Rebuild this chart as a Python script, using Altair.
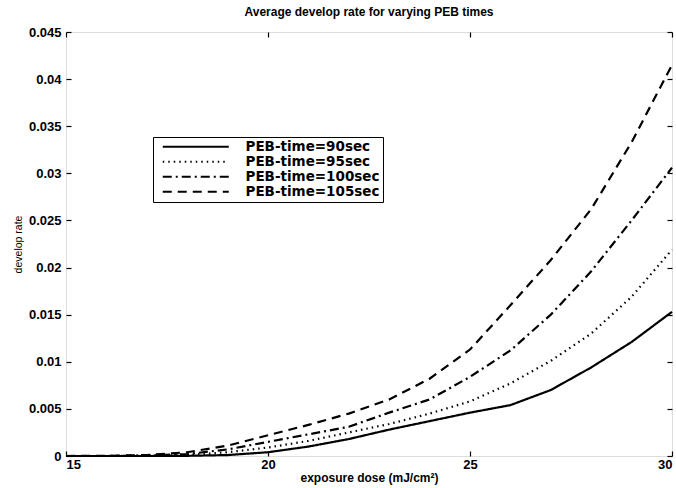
import altair as alt
import pandas as pd

dose = list(range(15, 31))
series_labels = ["PEB-time=90sec", "PEB-time=95sec", "PEB-time=100sec", "PEB-time=105sec"]
rate_90 = [0, 0, 0, 0.00002, 0.0001, 0.0004, 0.001, 0.0018, 0.0028, 0.0037, 0.0046, 0.0054, 0.0070, 0.0094, 0.0121, 0.0153]
rate_95 = [0, 0, 0.00003, 0.0001, 0.0004, 0.0009, 0.0016, 0.0025, 0.0034, 0.0045, 0.0058, 0.0077, 0.0101, 0.0130, 0.0169, 0.0219]
rate_100 = [0, 0, 0.00005, 0.0002, 0.0007, 0.0015, 0.0023, 0.0031, 0.0046, 0.0060, 0.0084, 0.0112, 0.0150, 0.0196, 0.0250, 0.0306]
rate_105 = [0, 0.00002, 0.0001, 0.0004, 0.0011, 0.0022, 0.0033, 0.0045, 0.0060, 0.0082, 0.0113, 0.0160, 0.0208, 0.0262, 0.0333, 0.0415]
x_ticks = [15, 20, 25, 30]
y_ticks = [0, 0.005, 0.01, 0.015, 0.02, 0.025, 0.03, 0.035, 0.04, 0.045]

rows = []
for lab, vals in zip(series_labels, [rate_90, rate_95, rate_100, rate_105]):
    for d, v in zip(dose, vals):
        rows.append({"dose": d, "rate": v, "series": lab})
df = pd.DataFrame(rows)

FONT = "Liberation Sans"
xscale = alt.Scale(domain=[15, 30], nice=False, zero=False)
yscale = alt.Scale(domain=[0, 0.045], nice=False)

base = alt.Chart(df)

lines = base.mark_line(color="black", strokeWidth=2.2).encode(
    x=alt.X("dose:Q", scale=xscale,
            axis=alt.Axis(values=x_ticks, ticks=False, domain=False, grid=False,
                          labelFont=FONT, labelFontWeight="bold", labelFontSize=13,
                          labelColor="black", labelPadding=2,
                          title="exposure dose (mJ/cm²)", titleFont=FONT,
                          titleFontWeight="bold", titleFontSize=12, titleColor="black",
                          titlePadding=1)),
    y=alt.Y("rate:Q", scale=yscale,
            axis=alt.Axis(values=y_ticks, format=".3~f", ticks=False, domain=False, grid=False,
                          labelFont=FONT, labelFontWeight="bold", labelFontSize=13,
                          labelColor="black", labelPadding=5,
                          title="develop rate", titleFont=FONT, titleFontWeight="normal",
                          titleFontSize=10.5, titleColor="black", titlePadding=5)),
    strokeDash=alt.StrokeDash(
        "series:N",
        scale=alt.Scale(domain=series_labels,
                        range=[[1, 0], [1.5, 4], [9, 4, 2, 4], [9, 6]]),
        legend=alt.Legend(title=None, orient="none", legendX=87, legendY=105,
                          symbolType="M0,0H12", symbolSize=121, symbolStrokeWidth=2,
                          symbolStrokeColor="black",
                          labelFont="DejaVu Sans", labelFontSize=13.5, labelFontWeight="bold",
                          labelColor="black",
                          labelOffset=76, rowPadding=0, padding=3,
                          strokeColor="black", fillColor="white")),
    detail="series:N",
)

def tick_layer(xorient, yorient):
    return base.mark_line(opacity=0).encode(
        x=alt.X("dose:Q", scale=xscale,
                axis=alt.Axis(orient=xorient, offset=-5, values=x_ticks, ticks=True,
                              tickSize=5, tickColor="black", tickWidth=1.2,
                              labels=False, domain=False, grid=False, title=None)),
        y=alt.Y("rate:Q", scale=yscale,
                axis=alt.Axis(orient=yorient, offset=-5, values=y_ticks, ticks=True,
                              tickSize=5, tickColor="black", tickWidth=1.2,
                              labels=False, domain=False, grid=False, title=None)),
        detail="series:N",
    )

chart = alt.layer(lines, tick_layer("bottom", "left"), tick_layer("top", "right")).resolve_axis(
    x="independent", y="independent"
).properties(
    width=606, height=424,
    autosize=alt.AutoSizeParams(type="none"),
    padding={"left": 66, "top": 32, "right": 4, "bottom": 32},
    title=alt.TitleParams("Average develop rate for varying PEB times", font=FONT,
                          fontSize=12, fontWeight="bold", color="black", offset=7),
).configure_view(stroke="black", strokeWidth=2).configure(background="white")

chart.save("out.html", embed_options={"renderer": "svg", "actions": False})
